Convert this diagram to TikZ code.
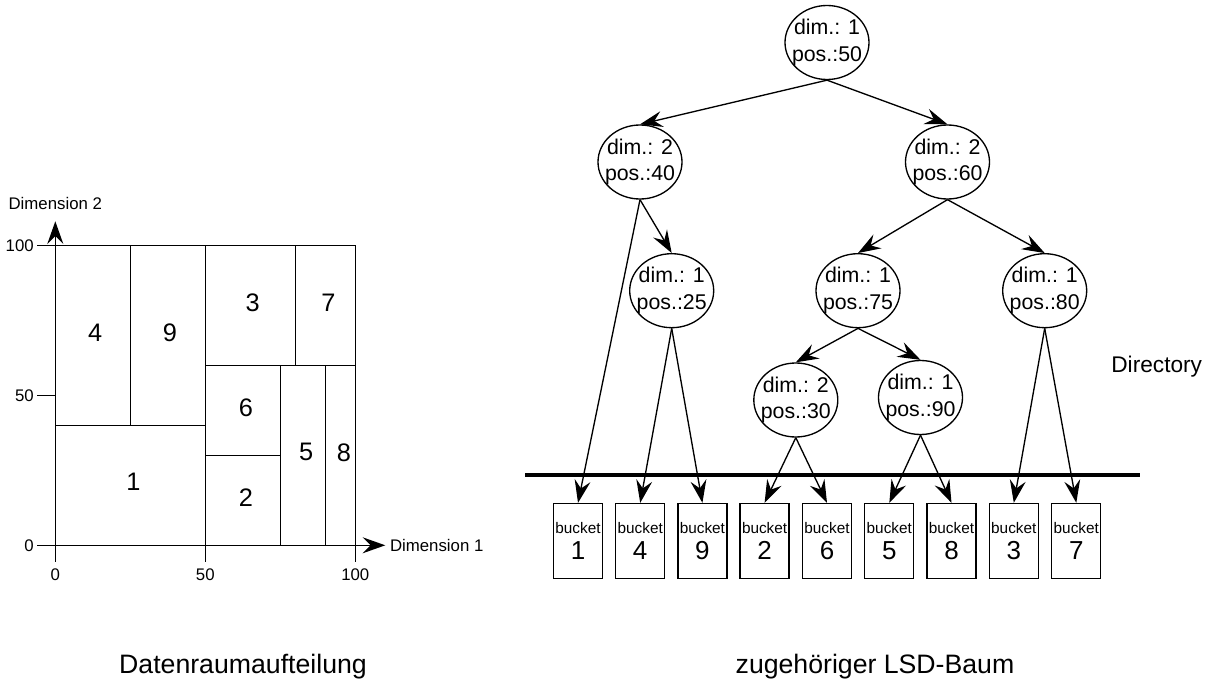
\documentclass[tikz,border=0pt]{standalone}
\usepackage{fontspec}
\setmainfont{Liberation Sans}
\usetikzlibrary{arrows.meta, positioning, shapes.geometric}

\newcommand{\bnum}[1]{{\fontsize{19.5}{20}\selectfont #1}}

\begin{document}
\begin{tikzpicture}[
    x=0.75pt, y=-0.75pt,
    knot/.style={ellipse, draw, line width=1pt, minimum width=63pt, minimum height=55.5pt,
        inner xsep=-5pt, inner ysep=0pt, align=center, font=\fontsize{16}{20}\selectfont},
    bucketbox/.style={rectangle, draw, line width=1pt, minimum width=36.75pt, minimum height=56.25pt,
        inner sep=0pt, align=center, font=\fontsize{11.5}{20}\selectfont},
    link/.style={line width=1pt, -{Stealth[length=17pt, width=12pt, inset=6pt]}},
    part/.style={line width=1.2pt},
    ticklabel/.style={font=\fontsize{12.6}{14}\selectfont},
    region/.style={font=\fontsize{19}{20}\selectfont},
    caption/.style={font=\fontsize{20}{22}\selectfont}
]
    \useasboundingbox (0,0) rectangle (1211,685);

    % Datenraum: Aufteilung in 9 Regionen
    \begin{scope}[shift={(55.3,545.3)}, x=2.25pt, y=2.25pt]
        \coordinate (o) at (0,0);
        \coordinate (xtip) at (110,0);
        \coordinate (ytip) at (0,108);
        \draw[link, line width=1.2pt] (0,-5.5) -- (ytip);
        \draw[link, line width=1.2pt] (-6,0) -- (xtip);
        \draw[part] (50,0) -- (50,-5.5);
        \draw[part] (100,0) -- (100,-5.5);
        \draw[part] (-6,50) -- (0,50);
        \draw[part] (-6,100) -- (0,100);

        \draw[part] (0,100) -- (100,100) -- (100,0);
        \draw[part] (0,40) -- (50,40);
        \draw[part] (25,40) -- (25,100);
        \draw[part] (50,0) -- (50,100);
        \draw[part] (50,60) -- (100,60);
        \draw[part] (80,60) -- (80,100);
        \draw[part] (50,30) -- (75,30);
        \draw[part] (75,0) -- (75,60);
        \draw[part] (90,0) -- (90,60);

        \node[region] (r4) at (13.3,70.8) {4};
        \node[region] (r9) at (38.2,70.9) {9};
        \node[region] (r3) at (65.8,80.9) {3};
        \node[region] (r7) at (91,81) {7};
        \node[region] (r6) at (63.5,45.7) {6};
        \node[region] (r5) at (83.6,31.2) {5};
        \node[region] (r8) at (96.2,31) {8};
        \node[region] (r1) at (26,21.2) {1};
        \node[region] (r2) at (63.5,16) {2};

        \node[ticklabel, anchor=east, inner sep=2.5pt] (ly100) at (-6,100) {100};
        \node[ticklabel, anchor=east, inner sep=2.5pt] (ly50) at (-6,50) {50};
        \node[ticklabel, anchor=east, inner sep=2.5pt] (ly0) at (-6,0) {0};
        \node[ticklabel, anchor=north, inner sep=5pt] (lx0) at (0,-5.5) {0};
        \node[ticklabel, anchor=north, inner sep=5pt] (lx50) at (50,-5.5) {50};
        \node[ticklabel, anchor=north, inner sep=5pt] (lx100) at (100,-5.5) {100};
        \node[ticklabel, anchor=west] (dim1) at (xtip) {Dimension 1};
        \node[ticklabel] (dim2) at (0,113.8) {Dimension 2};
    \end{scope}

    % LSD-Baum
    \node[knot] (root) at (827,42.5) {dim.: 1\\pos.:50};
    \node[knot] (n40) at (640,162) {dim.: 2\\pos.:40};
    \node[knot] (n60) at (947.5,162) {dim.: 2\\pos.:60};
    \node[knot] (n25) at (671.7,290.7) {dim.: 1\\pos.:25};
    \node[knot] (n75) at (858,290.7) {dim.: 1\\pos.:75};
    \node[knot] (n80) at (1044.7,290.7) {dim.: 1\\pos.:80};
    \node[knot] (n30) at (795.8,400) {dim.: 2\\pos.:30};
    \node[knot] (n90) at (920.5,397.5) {dim.: 1\\pos.:90};

    \node[bucketbox] (b1) at (578,541) {bucket\\\bnum{1}};
    \node[bucketbox] (b4) at (640.2,541) {bucket\\\bnum{4}};
    \node[bucketbox] (b9) at (702.4,541) {bucket\\\bnum{9}};
    \node[bucketbox] (b2) at (764.6,541) {bucket\\\bnum{2}};
    \node[bucketbox] (b6) at (827,541) {bucket\\\bnum{6}};
    \node[bucketbox] (b5) at (889.3,541) {bucket\\\bnum{5}};
    \node[bucketbox] (b8) at (951.5,541) {bucket\\\bnum{8}};
    \node[bucketbox] (b3) at (1013.8,541) {bucket\\\bnum{3}};
    \node[bucketbox] (b7) at (1076.3,541) {bucket\\\bnum{7}};

    \draw[link] (root.south) -- (n40.north);
    \draw[link] (root.south) -- (n60.north);
    \draw[link] (n40.south) -- (b1.north);
    \draw[link] (n40.south) -- (n25.north);
    \draw[link] (n60.south) -- (n75.north);
    \draw[link] (n60.south) -- (n80.north);
    \draw[link] (n25.south) -- (b4.north);
    \draw[link] (n25.south) -- (b9.north);
    \draw[link] (n75.south) -- (n30.north);
    \draw[link] (n75.south) -- (n90.north);
    \draw[link] (n30.south) -- (b2.north);
    \draw[link] (n30.south) -- (b6.north);
    \draw[link] (n90.south) -- (b5.north);
    \draw[link] (n90.south) -- (b8.north);
    \draw[link] (n80.south) -- (b3.north);
    \draw[link] (n80.south) -- (b7.north);

    % Grenze Directory / Buckets
    \coordinate (sepl) at (525,475);
    \coordinate (sepr) at (1140,475);
    \draw[line width=2.6pt] (sepl) -- (sepr);
    \node[font=\fontsize{17}{20}\selectfont] (dir) at (1156.7,366.7) {Directory};

    \node[caption] (cap1) at (243,667) {Datenraumaufteilung};
    \node[caption] (cap2) at (875,667) {zugehöriger LSD-Baum};
\end{tikzpicture}
\end{document}
